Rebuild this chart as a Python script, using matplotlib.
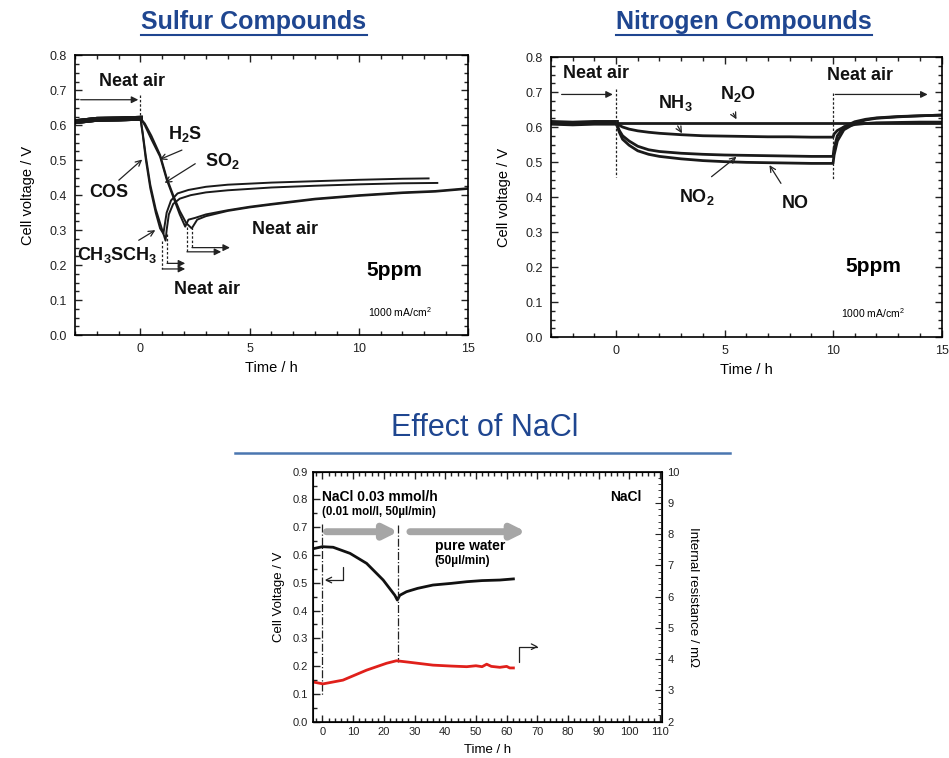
import matplotlib
matplotlib.use('Agg')
import numpy as np
import matplotlib.pyplot as plt
from matplotlib.lines import Line2D
from matplotlib.ticker import MultipleLocator, FormatStrFormatter

plt.rcParams['font.family'] = ['Liberation Sans', 'DejaVu Sans']
plt.rcParams['mathtext.fontset'] = 'custom'
plt.rcParams['mathtext.rm'] = 'Liberation Sans'
plt.rcParams['mathtext.bf'] = 'Liberation Sans:bold'
plt.rcParams['mathtext.it'] = 'Liberation Sans:italic'

# ---- sulfur compounds (time / h, cell voltage / V)
cos_t = [-3, -2, -1, 0, 0.1, 0.25, 0.45, 0.7, 0.9, 1.05, 1.2, 1.4, 1.7, 2.2, 3, 4, 6, 8, 10, 12, 13.2]
cos_v = [0.61, 0.617, 0.618, 0.62, 0.575, 0.5, 0.42, 0.35, 0.305, 0.29, 0.35, 0.385, 0.405, 0.415,
         0.424, 0.43, 0.436, 0.44, 0.444, 0.447, 0.448]
dms_t = [-3, -2, -1, 0, 0.1, 0.25, 0.45, 0.7, 0.95, 1.15, 1.2, 1.3, 1.5, 1.8, 2.3, 3, 4, 6, 8, 10, 12, 13.6]
dms_v = [0.61, 0.617, 0.618, 0.62, 0.58, 0.51, 0.43, 0.36, 0.31, 0.27, 0.3, 0.345, 0.375, 0.39, 0.4,
         0.408, 0.414, 0.422, 0.427, 0.431, 0.434, 0.435]
h2s_t = [-3, -2, -1, 0, 0.2, 0.5, 0.9, 1.2, 1.5, 1.8, 2.05, 2.2, 2.5, 3, 4, 5, 6, 8, 10, 12, 13.5, 15]
h2s_v = [0.61, 0.617, 0.618, 0.62, 0.6, 0.56, 0.51, 0.445, 0.395, 0.345, 0.31, 0.33, 0.335, 0.345,
         0.357, 0.367, 0.375, 0.39, 0.4, 0.408, 0.412, 0.42]
so2_t = [-3, -2, -1, 0, 0.2, 0.5, 0.9, 1.2, 1.5, 1.8, 2.1, 2.35, 2.6, 3, 4, 5, 6, 8, 10, 12, 13.5, 15]
so2_v = [0.61, 0.617, 0.618, 0.62, 0.605, 0.57, 0.515, 0.45, 0.4, 0.355, 0.32, 0.305, 0.33, 0.34,
         0.355, 0.365, 0.373, 0.388, 0.398, 0.406, 0.41, 0.418]

# ---- nitrogen compounds
n_t = [-3, -2, -1, 0, 0.15, 0.3, 0.6, 1, 1.5, 2, 3, 4, 5, 6, 7, 8, 9, 10,
       10.05, 10.2, 10.5, 11, 11.5, 12, 13, 14, 15]
n2o_v = [0.612, 0.61, 0.612, 0.612] + [0.61] * 23
nh3_v = [0.612, 0.61, 0.612, 0.612, 0.605, 0.6, 0.594, 0.589, 0.585, 0.582, 0.578, 0.575, 0.574,
         0.573, 0.572, 0.572, 0.571, 0.571, 0.58, 0.59, 0.6, 0.607, 0.61, 0.612, 0.613, 0.614, 0.614]
no2_v = [0.612, 0.61, 0.612, 0.612, 0.59, 0.575, 0.56, 0.545, 0.535, 0.53, 0.525, 0.522, 0.52,
         0.519, 0.518, 0.517, 0.516, 0.516, 0.54, 0.575, 0.6, 0.615, 0.622, 0.626, 0.63, 0.632, 0.634]
no_v = [0.612, 0.61, 0.612, 0.612, 0.585, 0.565, 0.548, 0.532, 0.522, 0.516, 0.509, 0.504, 0.501,
        0.499, 0.498, 0.497, 0.496, 0.496, 0.52, 0.56, 0.592, 0.61, 0.62, 0.625, 0.629, 0.632, 0.634]

# ---- NaCl
nacl_t = [-2.5, 0, 3.5, 9, 14.4, 19.8, 23.6, 24.4, 25.2, 27.4, 31, 36, 42, 47, 52, 57.8, 62.2]
nacl_v = [0.624, 0.63, 0.628, 0.606, 0.57, 0.51, 0.455, 0.438, 0.455, 0.468, 0.48, 0.492, 0.498,
          0.504, 0.508, 0.51, 0.514]
res_t = [-2.5, 0.2, 6.7, 14.4, 20.9, 24.1, 28.5, 36, 42, 47, 50, 52, 53.5, 55, 57.8, 60, 61, 62.2]
res_v = [3.26, 3.21, 3.33, 3.65, 3.87, 3.95, 3.9, 3.81, 3.78, 3.76, 3.79, 3.76, 3.84, 3.77, 3.74,
         3.77, 3.72, 3.72]

TITLE_BLUE = '#1f4690'


def style_axes(ax, xmaj, xmin_step, ymaj, ymin_step, fs=9, pad=6):
    ax.tick_params(which='both', direction='in', top=True, right=True, labelsize=fs,
                   colors='#222222', width=1, pad=pad)
    ax.tick_params(which='major', length=5)
    ax.tick_params(which='minor', length=3)
    ax.xaxis.set_major_locator(MultipleLocator(xmaj))
    ax.xaxis.set_minor_locator(MultipleLocator(xmin_step))
    ax.yaxis.set_major_locator(MultipleLocator(ymaj))
    ax.yaxis.set_minor_locator(MultipleLocator(ymin_step))
    ax.yaxis.set_major_formatter(FormatStrFormatter('%.1f'))
    for s in ax.spines.values():
        s.set_linewidth(1.2)


def arrow(ax, start, end, style='->', lw=0.9):
    ax.annotate('', xy=end, xytext=start,
                arrowprops=dict(arrowstyle=style, lw=lw, color='#222222',
                                shrinkA=0, shrinkB=0))


fig = plt.figure(figsize=(9.49, 7.58), dpi=100)
bold = dict(fontsize=13, fontweight='bold', color='#111111')
dash = dict(color='#222222', lw=0.9, ls=(0, (2, 1.5)))

# ================= Sulfur
ax1 = fig.add_axes([0.079, 0.558, 0.414, 0.369])
for t, v in [(cos_t, cos_v), (dms_t, dms_v), (h2s_t, h2s_v), (so2_t, so2_v)]:
    ax1.plot(t, v, color='#1a1a1a', lw=1.4)
    t = np.array(t)
    v = np.array(v)
    ax1.plot(t[t <= 0], v[t <= 0], color='#1a1a1a', lw=3.5)
ax1.set_xlim(-3, 15)
ax1.set_ylim(0, 0.8)
style_axes(ax1, 5, 1, 0.1, 0.025)
ax1.set_xticks([0, 5, 10, 15])
ax1.set_xlabel('Time / h', fontsize=10.5, labelpad=4)
ax1.set_ylabel('Cell voltage / V', fontsize=10.5, labelpad=10)

ax1.text(-1.9, 0.725, 'Neat air', ha='left', va='center', **bold)
arrow(ax1, (-2.74, 0.673), (-0.1, 0.673), '-|>')
ax1.plot([0, 0], [0.686, 0.62], **dash)
ax1.text(2.05, 0.576, r'$\mathbf{H_2S}$', ha='center', va='center', **bold)
ax1.text(3.73, 0.497, r'$\mathbf{SO_2}$', ha='center', va='center', **bold)
ax1.text(-1.45, 0.407, 'COS', ha='center', va='center', **bold)
ax1.text(-1.07, 0.229, r'$\mathbf{CH_3SCH_3}$', ha='center', va='center', **bold)
ax1.text(5.1, 0.302, 'Neat air', ha='left', va='center', **bold)
ax1.text(3.05, 0.129, 'Neat air', ha='center', va='center', **bold)
ax1.text(11.64, 0.186, '5ppm', ha='center', va='center', fontsize=15, fontweight='bold')
ax1.text(11.87, 0.065, r'1000 mA/cm$^2$', ha='center', va='center', fontsize=7.5)
arrow(ax1, (1.9, 0.529), (0.88, 0.502))
arrow(ax1, (2.51, 0.49), (1.11, 0.435))
arrow(ax1, (-0.99, 0.443), (0.08, 0.502))
arrow(ax1, (-0.08, 0.271), (0.68, 0.30))
for x0, y_top, y_bot, x1 in [(1.0, 0.27, 0.189, 2.05), (1.22, 0.29, 0.205, 2.05),
                             (2.13, 0.31, 0.238, 3.7), (2.36, 0.31, 0.25, 4.1)]:
    ax1.plot([x0, x0], [y_top, y_bot], **dash)
    arrow(ax1, (x0, y_bot), (x1, y_bot), '-|>')

# ================= Nitrogen
ax2 = fig.add_axes([0.5806, 0.5554, 0.4115, 0.3694])
for v in [n2o_v, nh3_v, no2_v, no_v]:
    ax2.plot(n_t, v, color='#1a1a1a', lw=2)
ax2.plot(n_t[:4], n2o_v[:4], color='#1a1a1a', lw=4)
ax2.set_xlim(-3, 15)
ax2.set_ylim(0, 0.8)
style_axes(ax2, 5, 1, 0.1, 0.025)
ax2.set_xticks([0, 5, 10, 15])
ax2.set_xlabel('Time / h', fontsize=10.5, labelpad=4)
ax2.set_ylabel('Cell voltage / V', fontsize=10.5, labelpad=10)
ax2.text(-2.46, 0.753, 'Neat air', ha='left', va='center', **bold)
ax2.text(11.25, 0.746, 'Neat air', ha='center', va='center', **bold)
arrow(ax2, (-2.51, 0.693), (-0.15, 0.693), '-|>')
arrow(ax2, (10.1, 0.693), (14.36, 0.693), '-|>')
ax2.plot([0, 0], [0.71, 0.458], **dash)
ax2.plot([10, 10], [0.696, 0.449], **dash)
ax2.text(2.74, 0.668, r'$\mathbf{NH_3}$', ha='center', va='center', **bold)
ax2.text(5.62, 0.693, r'$\mathbf{N_2O}$', ha='center', va='center', **bold)
ax2.text(3.73, 0.401, r'$\mathbf{NO_2}$', ha='center', va='center', **bold)
ax2.text(8.28, 0.382, 'NO', ha='center', va='center', **bold)
ax2.text(11.86, 0.201, '5ppm', ha='center', va='center', fontsize=15, fontweight='bold')
ax2.text(11.86, 0.068, r'1000 mA/cm$^2$', ha='center', va='center', fontsize=7.5)
arrow(ax2, (2.84, 0.603), (3.04, 0.582))
arrow(ax2, (5.4, 0.639), (5.55, 0.622))
arrow(ax2, (4.4, 0.458), (5.55, 0.515))
arrow(ax2, (7.6, 0.439), (7.07, 0.491))

# ================= NaCl
ax3 = fig.add_axes([0.330, 0.0479, 0.3673, 0.3298])
ax3.plot(nacl_t, nacl_v, color='#111111', lw=2)
ax3.set_xlim(-3, 110.5)
ax3.set_ylim(0, 0.9)
style_axes(ax3, 10, 2, 0.1, 0.05, fs=8, pad=4)
ax3.tick_params(right=False, which='both')
ax3.set_xlabel('Time / h', fontsize=9.5, labelpad=5)
ax3.set_ylabel('Cell Voltage / V', fontsize=9.5, labelpad=5)
ax3r = ax3.twinx()
ax3r.plot(res_t, res_v, color='#e0201b', lw=2)
ax3r.set_ylim(2, 10)
ax3r.yaxis.set_major_locator(MultipleLocator(1))
ax3r.yaxis.set_minor_locator(MultipleLocator(0.2))
ax3r.tick_params(which='both', direction='in', labelsize=8, colors='#222222', pad=4)
ax3r.tick_params(which='major', length=5)
ax3r.tick_params(which='minor', length=3)
ax3r.set_ylabel('Internal resistance / m\u03a9', fontsize=9.5, rotation=270, labelpad=14)

ax3.text(0, 0.81, 'NaCl 0.03 mmol/h', ha='left', va='center', fontsize=10, fontweight='bold')
ax3.text(0, 0.754, '(0.01 mol/l, 50\u00b5l/min)', ha='left', va='center', fontsize=8.3,
         fontweight='bold')
ax3.text(98.9, 0.81, 'NaCl', ha='center', va='center', fontsize=10, fontweight='bold')
ax3.text(36.6, 0.634, 'pure water', ha='left', va='center', fontsize=10, fontweight='bold')
ax3.text(36.6, 0.579, '(50\u00b5l/min)', ha='left', va='center', fontsize=8.5,
         fontweight='bold')
for a, b in [(1.3, 24.7), (28.5, 66.3)]:
    ax3.annotate('', xy=(b, 0.684), xytext=(a, 0.684),
                 arrowprops=dict(arrowstyle='-|>,head_length=0.8,head_width=0.4', lw=5,
                                 color='#a6a6a6', shrinkA=0, shrinkB=0))
ax3.plot([0, 0], [0.712, 0.096], color='#222222', lw=0.9, ls='-.')
ax3.plot([24.5, 24.5], [0.708, 0.216], color='#222222', lw=0.9, ls='-.')
ax3.annotate('', xy=(0.75, 0.51), xytext=(6.7, 0.558),
             arrowprops=dict(arrowstyle='->', lw=0.9, color='#222222', shrinkA=0, shrinkB=0,
                             connectionstyle='angle,angleA=-90,angleB=0,rad=0'))
ax3.annotate('', xy=(70.3, 0.27), xytext=(64.1, 0.216),
             arrowprops=dict(arrowstyle='->', lw=0.9, color='#222222', shrinkA=0, shrinkB=0,
                             connectionstyle='angle,angleA=90,angleB=0,rad=0'))

# ================= titles
t1 = fig.text(254 / 949, 1 - 22 / 758, 'Sulfur Compounds', ha='center', va='center',
              fontsize=18, fontweight='bold', color=TITLE_BLUE)
t2 = fig.text(744 / 949, 1 - 22 / 758, 'Nitrogen Compounds', ha='center', va='center',
              fontsize=18, fontweight='bold', color=TITLE_BLUE)
fig.text(485 / 949, 1 - 428 / 758, 'Effect of NaCl', ha='center', va='center',
         fontsize=22, color=TITLE_BLUE)
fig.add_artist(Line2D([235 / 949, 730 / 949], [1 - 453 / 758, 1 - 453 / 758],
                      color='#4a76b0', lw=1.8))

fig.canvas.draw()
W, H = fig.bbox.width, fig.bbox.height
for t in (t1, t2):
    bb = t.get_window_extent()
    fig.add_artist(Line2D([bb.x0 / W, bb.x1 / W], [(bb.y0 - 1) / H, (bb.y0 - 1) / H],
                          color=TITLE_BLUE, lw=1.5))

fig.savefig('out.png', dpi=100)
